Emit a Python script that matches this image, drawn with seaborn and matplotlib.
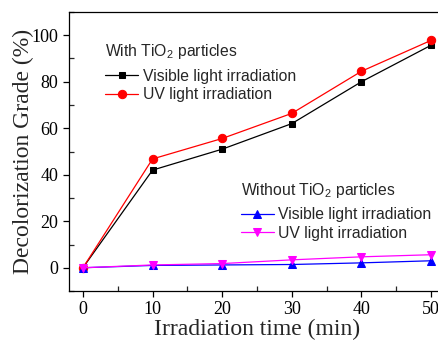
import matplotlib
matplotlib.use("Agg")
import matplotlib.pyplot as plt
import seaborn as sns
import pandas as pd
from matplotlib.ticker import MultipleLocator, FormatStrFormatter

time_min = [0, 10, 20, 30, 40, 50]
with_visible = [0, 42, 51, 62, 80, 95.7]
with_uv = [0, 46.8, 55.6, 66.4, 84.5, 97.8]
without_visible = [0, 1.0, 1.2, 1.4, 2.1, 3.0]
without_uv = [0, 1.2, 1.8, 3.4, 4.7, 5.6]

sns.set_theme(style="ticks")
plt.rcParams['font.family'] = ['Liberation Serif', 'DejaVu Serif']
plt.rcParams['mathtext.fontset'] = 'custom'
plt.rcParams['mathtext.rm'] = 'Liberation Sans'
plt.rcParams['mathtext.it'] = 'Liberation Sans:italic'

fig = plt.figure(figsize=(4.38, 3.41), dpi=100)
ax = fig.add_axes([69/438, 50/341, 376/438, 279/341])

series = [
    (with_visible, "black", "s", 5, "Visible light irradiation"),
    (with_uv, "red", "o", 6, "UV light irradiation"),
    (without_visible, "blue", "^", 6, "Visible light irradiation"),
    (without_uv, "magenta", "v", 6, "UV light irradiation"),
]
lines = []
for vals, col, mk, ms, lab in series:
    df = pd.DataFrame({"t": time_min, "v": vals})
    sns.lineplot(data=df, x="t", y="v", color=col, marker=mk, markersize=ms,
                 markeredgecolor=col, linewidth=0.9, ax=ax, legend=False)
    lines.append(ax.lines[-1])

ax.set_xlim(-2, 52)
ax.set_ylim(-10, 110)
ax.xaxis.set_major_locator(MultipleLocator(10))
ax.xaxis.set_minor_locator(MultipleLocator(5))
ax.yaxis.set_major_locator(MultipleLocator(20))
ax.yaxis.set_minor_locator(MultipleLocator(10))
ax.xaxis.set_major_formatter(FormatStrFormatter('%d'))
ax.yaxis.set_major_formatter(FormatStrFormatter('%d'))
ax.tick_params(which='major', direction='out', length=4, width=0.9, labelsize=13, colors='black')
ax.tick_params(which='minor', direction='in', length=3.5, width=0.9)
ax.set_yticks([0, 20, 40, 60, 80, 100])
for lbl in ax.get_xticklabels() + ax.get_yticklabels():
    lbl.set_fontfamily('Liberation Serif')
for sp in ax.spines.values():
    sp.set_linewidth(0.9)
    sp.set_color('black')

ax.set_xlabel("Irradiation time (min)", fontsize=17, labelpad=0)
ax.set_ylabel("Decolorization Grade (%)", fontsize=17, labelpad=-1.5)

sans = {'family': 'Liberation Sans', 'size': 11.3}
leg1 = ax.legend(lines[:2], [series[0][4], series[1][4]],
                 title="With TiO$_2$ particles", prop=sans, title_fontproperties=sans,
                 loc='upper left', bbox_to_anchor=(0.08, 0.915), frameon=False,
                 handlelength=2.1, handletextpad=0.3, labelspacing=0.22, borderaxespad=0)
leg1._legend_box.align = "left"
leg1._legend_box.sep = 5.5
ax.add_artist(leg1)
leg2 = ax.legend(lines[2:], [series[2][4], series[3][4]],
                 title="Without TiO$_2$ particles", prop=sans, title_fontproperties=sans,
                 loc='upper left', bbox_to_anchor=(0.44, 0.415), frameon=False,
                 handlelength=2.1, handletextpad=0.3, labelspacing=0.22, borderaxespad=0)
leg2._legend_box.align = "left"
leg2._legend_box.sep = 5.0

fig.savefig("out.png", dpi=100)
